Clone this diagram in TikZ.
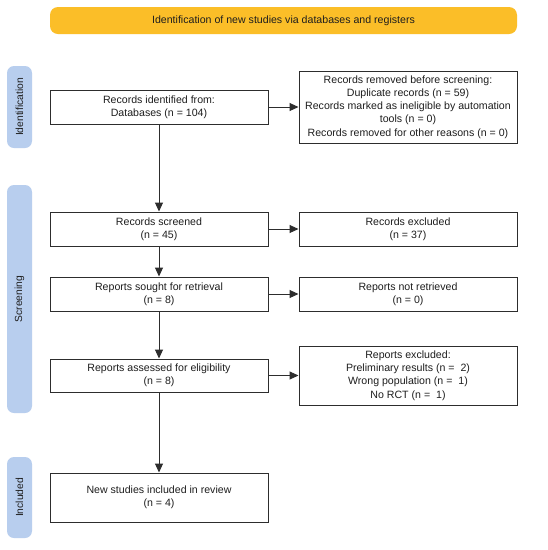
\documentclass[tikz,border=0pt]{standalone}
\usepackage{fontspec}
\setmainfont{Liberation Sans}
\usetikzlibrary{arrows.meta}
\definecolor{bannerc}{RGB}{251,190,40}
\definecolor{sidec}{RGB}{184,206,238}
\definecolor{linec}{RGB}{45,45,45}
\definecolor{textc}{RGB}{30,30,30}
\begin{document}
\begin{tikzpicture}[x=1pt,y=-1pt,
  box/.style={draw=linec,line width=1pt,fill=white,text=textc,minimum width=218pt,align=center,inner sep=1pt,font=\fontsize{10.6}{13.2}\selectfont},
  side/.style={fill=sidec,rounded corners=7pt,minimum height=25pt,rotate=90,text=textc,inner sep=0pt,font=\fontsize{10.3}{12}\selectfont},
  arr/.style={draw=linec,line width=1pt,-{Triangle[length=9pt,width=8pt]}}]
\useasboundingbox (0,0) rectangle (548,550);
\fill[white] (0,0) rectangle (548,550);
\node[fill=bannerc,rounded corners=8pt,minimum width=467pt,minimum height=27pt,text=textc,font=\fontsize{10.6}{12}\selectfont] (banner) at (283.5,20.5) {Identification of new studies via databases and registers};
\node[side,minimum width=82pt] (sid) at (19.5,107) {Identification};
\node[side,minimum width=228pt] (sscr) at (19.5,299) {Screening};
\node[side,minimum width=81pt] (sinc) at (19.5,497.5) {Included};
\node[box,minimum height=34pt] (rec) at (159,107) {Records identified from:\\Databases (n = 104)};
\node[box,minimum height=72pt] (rem) at (408,107) {Records removed before screening:\\Duplicate records (n = 59)\\Records marked as ineligible by automation\\tools (n = 0)\\Records removed for other reasons (n = 0)};
\node[box,minimum height=34pt] (scr) at (159,229) {Records screened\\(n = 45)};
\node[box,minimum height=34pt] (exc) at (408,229) {Records excluded\\(n = 37)};
\node[box,minimum height=34pt] (sou) at (159,294) {Reports sought for retrieval\\(n = 8)};
\node[box,minimum height=34pt] (nrt) at (408,294) {Reports not retrieved\\(n = 0)};
\node[box,minimum height=33pt] (ass) at (159,375.5) {Reports assessed for eligibility\\(n = 8)};
\node[box,minimum height=59pt] (rex) at (408,375.5) {Reports excluded:\\Preliminary results (n =\ \ 2)\\Wrong population (n =\ \ 1)\\No RCT (n =\ \ 1)};
\node[box,minimum height=49pt] (inc) at (159,497.5) {New studies included in review\\(n = 4)};
\draw[arr] (rec) -- (rem);
\draw[arr] (scr) -- (exc);
\draw[arr] (sou) -- (nrt);
\draw[arr] (ass) -- (rex);
\draw[arr] (rec) -- (scr);
\draw[arr] (scr) -- (sou);
\draw[arr] (sou) -- (ass);
\draw[arr] (ass) -- (inc);
\end{tikzpicture}
\end{document}
